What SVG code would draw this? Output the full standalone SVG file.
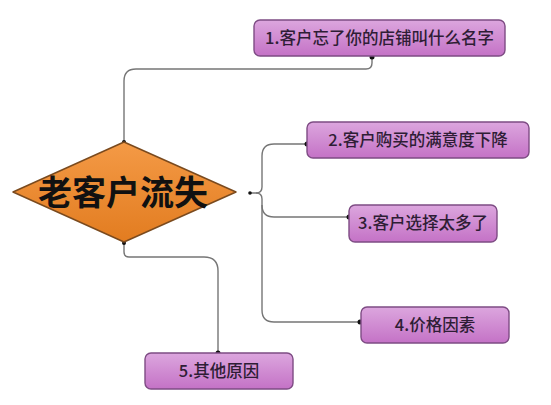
<svg xmlns="http://www.w3.org/2000/svg" width="551" height="405" viewBox="0 0 551 405">
<style>
.box{fill:url(#pg);stroke:#7e4c84;stroke-width:1.4}
.lbl{font-family:"Noto Sans CJK SC","Noto Sans",sans-serif;font-size:16.5px;font-weight:500;fill:#2e1d35;text-anchor:middle}
.con{fill:none;stroke:#767676;stroke-width:1.4}
.dot{fill:#111}
</style>
<defs>
<linearGradient id="pg" x1="0" y1="0" x2="0" y2="1">
<stop offset="0" stop-color="#dca6de"/>
<stop offset="1" stop-color="#c472c6"/>
</linearGradient>
<linearGradient id="og" x1="0" y1="0" x2="0" y2="1">
<stop offset="0" stop-color="#f49a46"/>
<stop offset="1" stop-color="#e27c20"/>
</linearGradient>
</defs>
<rect width="551" height="405" fill="#ffffff"/>
<g id="connectors">
<path class="con" d="M124,142 V81 Q124,69 136,69 H366 Q372,69 372,63 V57"/>
<path class="con" d="M250,193 H256 Q262,193 262,187 V156 Q262,144 274,144 H307"/>
<path class="con" d="M256,193 Q262,193 262,199 V205 Q262,217 274,217 H349"/>
<path class="con" d="M262,205 V310 Q262,322 274,322 H361"/>
<path class="con" d="M124,243 V252 Q124,257 129,257 H204 Q218,257 218,271 V353"/>
<circle class="dot" cx="124" cy="142" r="2"/>
<circle class="dot" cx="372" cy="57" r="2.5"/>
<circle class="dot" cx="250" cy="193" r="1.8"/>
<circle class="dot" cx="307" cy="144" r="2.5"/>
<circle class="dot" cx="349" cy="217" r="2.5"/>
<circle class="dot" cx="360" cy="322" r="2.5"/>
<circle class="dot" cx="124" cy="243" r="2"/>
<circle class="dot" cx="218" cy="353" r="2.5"/>
</g>
<g id="center">
<path d="M124,142 L236,192 L124,242 L13,192 Z" fill="url(#og)" stroke="#7a4a1e" stroke-width="1.5" stroke-linejoin="round"/>
<text x="123" y="205" font-family="'Noto Sans CJK SC','Noto Sans',sans-serif" font-size="34" font-weight="bold" fill="#111" text-anchor="middle">老客户流失</text>
</g>
<g id="n1">
<rect class="box" x="254" y="20" width="251" height="36" rx="6"/>
<text class="lbl" x="379.5" y="44">1.客户忘了你的店铺叫什么名字</text>
</g>
<g id="n2">
<rect class="box" x="307" y="122" width="222" height="36" rx="6"/>
<text class="lbl" x="418" y="146">2.客户购买的满意度下降</text>
</g>
<g id="n3">
<rect class="box" x="349" y="205" width="148" height="37" rx="6"/>
<text class="lbl" x="423" y="229">3.客户选择太多了</text>
</g>
<g id="n4">
<rect class="box" x="361" y="307" width="148" height="36" rx="6"/>
<text class="lbl" x="435" y="331">4.价格因素</text>
</g>
<g id="n5">
<rect class="box" x="145" y="353" width="148" height="36" rx="6"/>
<text class="lbl" x="219" y="377">5.其他原因</text>
</g>
</svg>
